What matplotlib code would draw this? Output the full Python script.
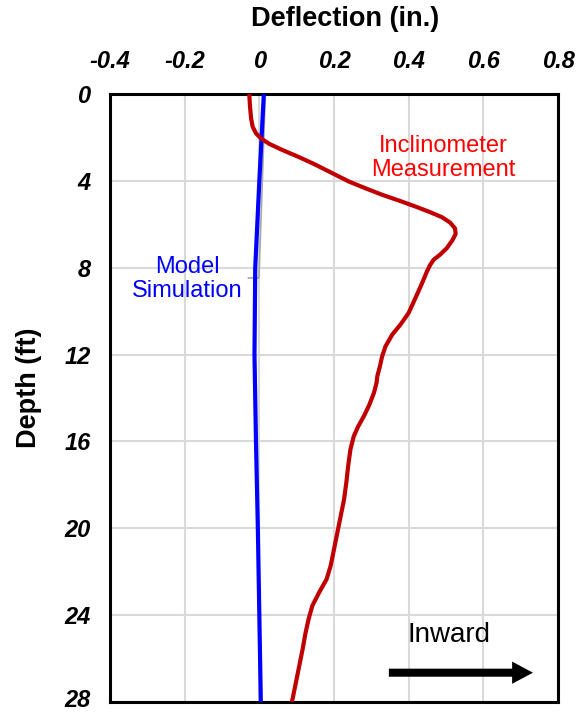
import matplotlib
matplotlib.use("Agg")
import matplotlib.pyplot as plt
from matplotlib.patches import FancyArrowPatch
from matplotlib.transforms import ScaledTranslation

# Inclinometer measurement (deflection in., depth ft)
incl_defl = [-0.027, -0.025, -0.022, -0.018, -0.009, 0.004, 0.027, 0.062, 0.107, 0.151,
             0.196, 0.240, 0.284, 0.329, 0.373, 0.418, 0.453, 0.489, 0.511, 0.524,
             0.526, 0.517, 0.502, 0.484, 0.467, 0.458, 0.449, 0.436, 0.418, 0.400,
             0.378, 0.356, 0.338, 0.329, 0.323, 0.316, 0.314, 0.307, 0.295, 0.280,
             0.265, 0.253, 0.244, 0.238, 0.233, 0.227, 0.218, 0.209, 0.200, 0.191,
             0.180, 0.160, 0.142, 0.132, 0.124, 0.116, 0.107, 0.098, 0.089, 0.087]
incl_depth = [0.0, 0.58, 1.12, 1.50, 1.81, 2.04, 2.30, 2.58, 2.91, 3.26,
              3.65, 4.03, 4.34, 4.64, 4.90, 5.18, 5.41, 5.67, 5.92, 6.18,
              6.44, 6.74, 7.10, 7.40, 7.63, 7.86, 8.17, 8.71, 9.40, 10.08,
              10.62, 11.08, 11.62, 12.08, 12.54, 13.00, 13.30, 13.76, 14.30, 14.84,
              15.30, 15.76, 16.37, 17.13, 17.90, 18.67, 19.43, 20.20, 20.97, 21.73,
              22.35, 22.96, 23.57, 24.18, 24.80, 25.56, 26.33, 27.10, 27.86, 28.0]

# Model simulation
model_defl = [0.012, 0.000, -0.011, -0.013, -0.009, -0.004, 0.000, 0.004]
model_depth = [0, 4, 8, 12, 16, 20, 24, 28]

# faint gray trace beside the model line
gray_defl = [0.016, -0.001, -0.029]
gray_depth = [0.0, 8.47, 8.47]

xticks = [-0.4, -0.2, 0, 0.2, 0.4, 0.6, 0.8]
xticklabels = ["-0.4", "-0.2", "0", "0.2", "0.4", "0.6", "0.8"]
yticks = [0, 4, 8, 12, 16, 20, 24, 28]
yticklabels = ["0", "4", "8", "12", "16", "20", "24", "28"]

plt.rcParams['font.family'] = ['Liberation Sans', 'DejaVu Sans']

fig = plt.figure(figsize=(5.8, 7.14), dpi=100)
ax = fig.add_axes([0.1897, 0.0168, 0.962 - 0.1897, 0.8683 - 0.0168])

ax.plot(gray_defl, gray_depth, color="#a6a6a6", lw=1.2, zorder=2)
ax.plot(model_defl, model_depth, color="#0000ff", lw=3, zorder=3, solid_capstyle="butt")
ax.plot(incl_defl, incl_depth, color="#c00000", lw=3, zorder=4,
        solid_joinstyle="round", solid_capstyle="butt")

ax.set_xlim(-0.4, 0.8)
ax.set_ylim(28, 0)
ax.set_xticks(xticks)
ax.set_xticklabels(xticklabels)
ax.set_yticks(yticks)
ax.set_yticklabels(yticklabels)
ax.xaxis.tick_top()
ax.tick_params(axis="both", length=0, labelsize=17)
ax.tick_params(axis="x", pad=15)
ax.tick_params(axis="y", pad=14)
for lab in ax.get_xticklabels() + ax.get_yticklabels():
    lab.set_fontweight("bold")
    lab.set_fontstyle("italic")
# keep the bottom depth label inside the figure
last = ax.get_yticklabels()[-1]
last.set_transform(last.get_transform() + ScaledTranslation(0, 3.0 / 72, fig.dpi_scale_trans))

ax.grid(True, color="#d9d9d9", lw=1.5)
ax.set_axisbelow(True)
for sp in ax.spines.values():
    sp.set_linewidth(2.2)
    sp.set_color("black")

fig.text(0.595, 0.973, "Deflection (in.)", ha="center", va="center",
         fontsize=19.5, fontweight="bold")
fig.text(0.050, 0.457, "Depth (ft)", ha="center", va="center",
         fontsize=19.5, fontweight="bold", rotation=90)

ax.text(0.494, 2.94, "Inclinometer\nMeasurement", color="#ff0000", fontsize=17,
        ha="center", va="center", linespacing=1.12)
ax.text(-0.193, 8.53, "Model\nSimulation", color="#0000ff", fontsize=17,
        ha="center", va="center", linespacing=1.12)
ax.text(0.507, 24.9, "Inward", color="black", fontsize=20, ha="center", va="center")

arrow = FancyArrowPatch((0.347, 26.65), (0.733, 26.65),
                        arrowstyle="simple,head_length=1.5,head_width=1.6,tail_width=0.58",
                        mutation_scale=10, color="black", lw=0,
                        shrinkA=0, shrinkB=0, zorder=5)
ax.add_patch(arrow)

fig.savefig("out.png", dpi=100)
